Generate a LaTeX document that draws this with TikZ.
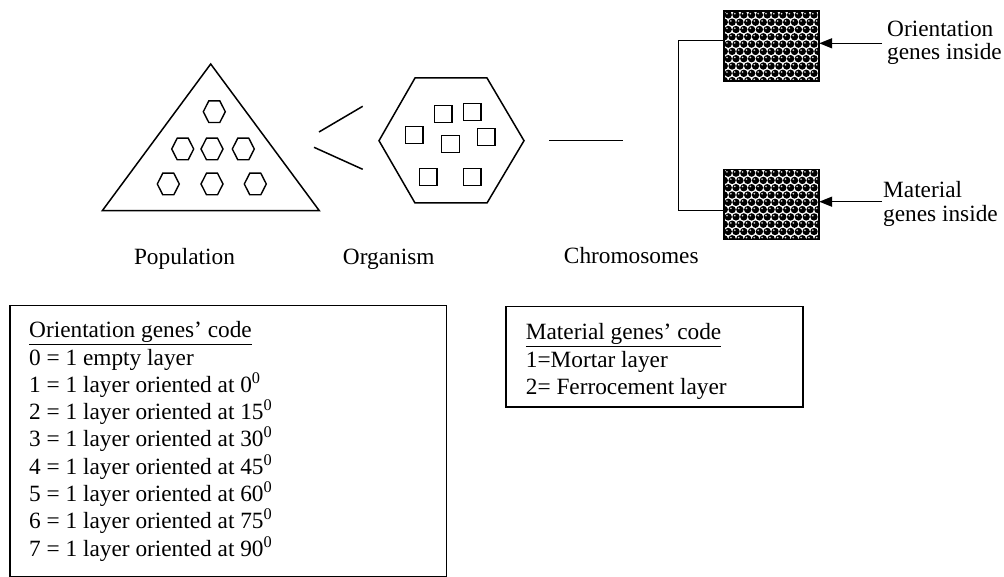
\documentclass[tikz,border=0pt]{standalone}
\usepackage{fontspec}
\setmainfont{Liberation Serif}
\usetikzlibrary{arrows.meta}
\begin{document}
\begin{tikzpicture}[x=1pt,y=-1pt, line join=miter,
  lbl/.style={inner sep=0, anchor=base, font=\fontsize{23.3}{27.3}\selectfont},
  lblw/.style={lbl, anchor=base west},
  frame/.style={draw, line width=1.5pt, inner sep=0, anchor=north west},
  shp/.style={line width=1.5pt},
  arr/.style={line width=1.5pt, -{Triangle[length=13pt,width=10pt]}},
  hexa/.pic={\draw[line width=1.4pt] (11pt,0pt)--(5.5pt,10.8pt)--(-5.5pt,10.8pt)--(-11pt,0pt)--(-5.5pt,-10.8pt)--(5.5pt,-10.8pt)--cycle;},
  sq/.pic={\draw[line width=1.4pt] (-8.8pt,-8.5pt) rectangle (8.8pt,8.5pt);},
  chromo/.pic={
    \begin{scope}
    \clip (-47.5pt,-35pt) rectangle (47.5pt,35pt);
    \fill[white] (-47.5pt,-35pt) rectangle (47.5pt,35pt);
    \foreach \r in {0,...,9}{
      \foreach \c in {-1,...,12}{
        \pgfmathsetmacro\xx{-47.5+4+\c*7.8+mod(\r,2)*3.9}
        \pgfmathsetmacro\yy{35-3.6-\r*7.3}
        \fill[black] (\xx pt,\yy pt) circle (3.7pt);
        \fill[white!60!black] (\xx pt-1.2pt,\yy pt+1.2pt) circle (1pt);
        \fill[white] (\xx pt-1.3pt,\yy pt+1.3pt) circle (0.5pt);
      }
    }
    \end{scope}
    \draw[line width=1.6pt] (-47.5pt,-35pt) rectangle (47.5pt,35pt);
  }
]
\useasboundingbox (0,0) rectangle (1004,577);

% population triangle
\coordinate (tA) at (210.7,64);
\coordinate (tL) at (102.3,210.7);
\coordinate (tR) at (319.3,210.7);
\draw[shp] (tA) -- (tL) -- (tR) -- cycle;
\pic at (214.3,111.7) {hexa};
\pic at (182.7,149) {hexa};
\pic at (212,149) {hexa};
\pic at (243.3,149) {hexa};
\pic at (168.3,184) {hexa};
\pic at (212,184) {hexa};
\pic at (255.3,184) {hexa};

% organism hexagon
\coordinate (hW) at (379,140.7);
\coordinate (hE) at (524,140.7);
\draw[shp] (hW) -- (415,78) -- (487,78) -- (hE) -- (487,203) -- (415,203) -- cycle;
\pic at (443,114.3) {sq};
\pic at (472,112) {sq};
\pic at (414,135.3) {sq};
\pic at (450.5,144.3) {sq};
\pic at (486,137.3) {sq};
\pic at (428.3,177.2) {sq};
\pic at (472,177.2) {sq};

% connecting strokes
\coordinate (l1a) at (319,132);
\coordinate (l1b) at (362.7,106.3);
\coordinate (l2a) at (314,147.3);
\coordinate (l2b) at (362.7,169.3);
\draw[shp] (l1a) -- (l1b);
\draw[shp] (l2a) -- (l2b);
\coordinate (m1) at (549,140.7);
\coordinate (m2) at (623,140.7);
\draw[shp] (m1) -- (m2);

% chromosomes
\coordinate (chrA) at (771.7,46.3);
\coordinate (chrB) at (771.7,204.5);
\pic at (chrA) {chromo};
\pic at (chrB) {chromo};
\coordinate (bt) at (678.3,40.7);
\coordinate (bb) at (678.3,210.7);
\draw[shp] (724.2,40.7) -- (bt) -- (bb) -- (724.2,210.7);
\coordinate (oa) at (882,43.3);
\coordinate (ob) at (882,201.7);
\draw[arr] (oa) -- (819.2,43.3);
\draw[arr] (ob) -- (819.2,201.7);

% labels
\node[lblw] (lo1) at (887,36.7) {Orientation};
\node[lblw] (lo2) at (887,60) {genes inside};
\node[lblw] (lm1) at (883,198) {Material};
\node[lblw] (lm2) at (883,221.5) {genes inside};
\node[lbl] (pop) at (184.5,265) {Population};
\node[lbl] (org) at (388.7,265) {Organism};
\node[lbl] (chr) at (631.3,263.3) {Chromosomes};

% code boxes
\node[frame, minimum width=436.7pt, minimum height=271pt] (obox) at (9,305) {};
\node[frame, minimum width=297pt, minimum height=100pt] (mbox) at (505,306) {};
\node[lblw] (o0) at (29,337.7) {\underline{Orientation genes’ code}};
\node[lblw] (o1) at (29,365) {0 = 1 empty layer};
\node[lblw] (o2) at (29,392.3) {1 = 1 layer oriented at 0\textsuperscript{0}};
\node[lblw] (o3) at (29,419.6) {2 = 1 layer oriented at 15\textsuperscript{0}};
\node[lblw] (o4) at (29,446.9) {3 = 1 layer oriented at 30\textsuperscript{0}};
\node[lblw] (o5) at (29,474.2) {4 = 1 layer oriented at 45\textsuperscript{0}};
\node[lblw] (o6) at (29,501.5) {5 = 1 layer oriented at 60\textsuperscript{0}};
\node[lblw] (o7) at (29,528.8) {6 = 1 layer oriented at 75\textsuperscript{0}};
\node[lblw] (o8) at (29,556.1) {7 = 1 layer oriented at 90\textsuperscript{0}};
\node[lblw] (m0) at (525.7,340) {\underline{Material genes’ code}};
\node[lblw] (m1t) at (525.7,367.3) {1=Mortar layer};
\node[lblw] (m2t) at (525.7,394.3) {2= Ferrocement layer};
\end{tikzpicture}
\end{document}
